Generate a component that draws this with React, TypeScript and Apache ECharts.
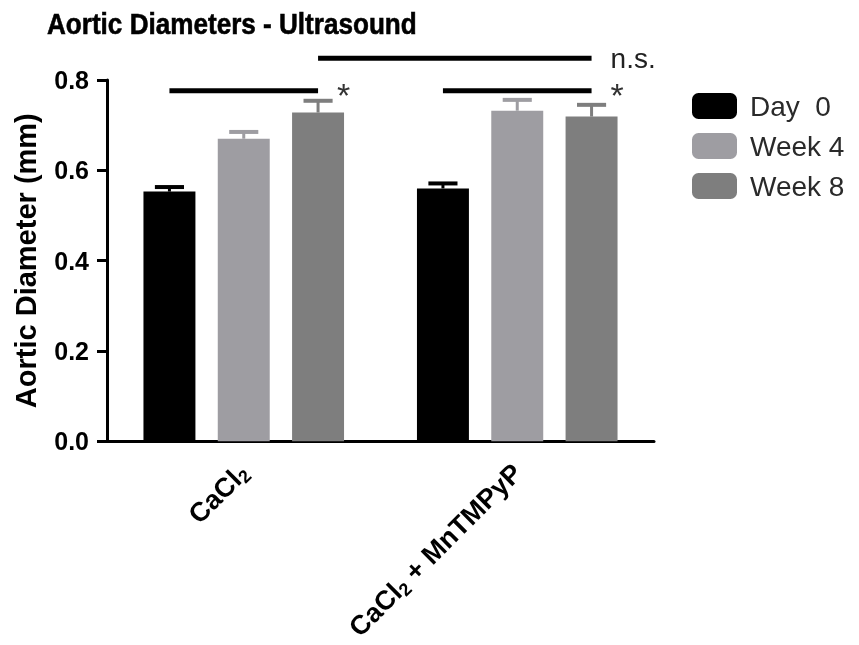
import React, { useEffect, useRef } from "react";
import * as echarts from "echarts";

const categories = ["CaCl{sub|2}", "CaCl{sub|2} + MnTMPyP"];
const seriesNames = ["Day  0", "Week 4", "Week 8"];
const day0 = [0.553, 0.56];
const week4 = [0.67, 0.732];
const week8 = [0.728, 0.719];
const day0Err = [0.01, 0.011];
const week4Err = [0.015, 0.024];
const week8Err = [0.026, 0.026];
const colors = ["#000000", "#9e9da2", "#7e7e7e"];
const yTicks = [0, 0.2, 0.4, 0.6, 0.8];
const titleText = "Aortic Diameters - Ultrasound";
const yName = "Aortic Diameter (mm)";

// significance brackets: from (group, bar) to (group, bar) at height y
const sigFromGroup = [0, 1, 0];
const sigFromBar = [0, 0, 2];
const sigToGroup = [0, 1, 1];
const sigToBar = [2, 2, 2];
const sigY = [0.776, 0.776, 0.848];
const sigLabels = ["*", "*", "n.s."];

const BAR_W = 0.19;
const BAR_GAP = 0.43;
const FONT = "'Liberation Sans', Arial, Helvetica, sans-serif";

export default function App() {
  const ref = useRef<HTMLDivElement>(null);
  useEffect(() => {
    if (!ref.current) return;
    const chart = echarts.init(ref.current, null, { renderer: "svg" });
    const values = [day0, week4, week8];
    const errs = [day0Err, week4Err, week8Err];
    const errData: number[][] = [];
    values.forEach((arr, s) =>
      arr.forEach((v, g) => errData.push([g, s, v, errs[s][g]]))
    );
    const sigData = sigY.map((y, i) => [
      sigFromGroup[i],
      sigFromBar[i],
      sigToGroup[i],
      sigToBar[i],
      y,
    ]);
    const barOffset = (band: number, s: number) =>
      (s - 1) * band * BAR_W * (1 + BAR_GAP);

    chart.setOption({
      animation: false,
      graphic: [
        {
          type: "text",
          x: 47,
          y: 24,
          scaleX: 0.87,
          style: {
            text: titleText,
            fontFamily: FONT,
            fontSize: 30,
            fontWeight: "bold",
            fill: "#000",
            stroke: "#000",
            lineWidth: 0.6,
            align: "left",
            verticalAlign: "middle",
          },
        },
      ],
      legend: {
        data: seriesNames,
        orient: "vertical",
        left: 687,
        top: 87,
        itemWidth: 45,
        itemHeight: 26,
        itemGap: 12,
        icon: "roundRect",
        textStyle: {
          fontFamily: FONT,
          fontSize: 28,
          color: "#2a2a2a",
          padding: [0, 0, 0, 8],
        },
      },
      grid: { left: 107, right: 205, top: 80, bottom: 202 },
      xAxis: {
        type: "category",
        data: categories,
        axisLine: { lineStyle: { color: "#000", width: 3 } },
        axisTick: { alignWithLabel: true, length: 8, lineStyle: { width: 2, color: "#000" } },
        axisLabel: {
          rotate: 45,
          margin: 27,
          interval: 0,
          fontFamily: FONT,
          fontSize: 27,
          fontWeight: "bold",
          color: "#000",
          rich: {
            sub: {
              fontFamily: FONT,
              fontSize: 18,
              fontWeight: "bold",
              color: "#000",
              verticalAlign: "bottom",
              padding: [13, 0, 0, 0],
            },
          },
        },
      },
      yAxis: {
        type: "value",
        min: yTicks[0],
        max: yTicks[yTicks.length - 1],
        interval: 0.2,
        name: yName,
        nameLocation: "middle",
        nameGap: 67,
        nameTextStyle: { fontFamily: FONT, fontSize: 29, fontWeight: "bold", color: "#000" },
        splitLine: { show: false },
        axisLine: { show: true, lineStyle: { color: "#000", width: 3 } },
        axisTick: { show: true, length: 10, lineStyle: { width: 3, color: "#000" } },
        axisLabel: {
          margin: 18,
          fontFamily: FONT,
          fontSize: 25,
          fontWeight: "bold",
          color: "#000",
          formatter: (v: number) => v.toFixed(1),
        },
      },
      series: [
        ...seriesNames.map((name, s) => ({
          name,
          type: "bar",
          data: values[s],
          barWidth: BAR_W * 100 + "%",
          barGap: BAR_GAP * 100 + "%",
          itemStyle: { color: colors[s] },
          z: 2,
        })),
        {
          type: "custom",
          name: "err",
          data: errData,
          encode: { x: 0, y: 2 },
          z: 3,
          renderItem: (params: any, api: any) => {
            const g = api.value(0);
            const s = api.value(1);
            const v = api.value(2);
            const e = api.value(3);
            const band = api.size([1, 0])[0];
            const base = api.coord([g, v]);
            const top = api.coord([g, v + e]);
            const x = base[0] + barOffset(band, s);
            const half = band * BAR_W * 0.28;
            const c = colors[s];
            return {
              type: "group",
              children: [
                {
                  type: "line",
                  shape: { x1: x, y1: base[1], x2: x, y2: top[1] },
                  style: { stroke: c, lineWidth: 3 },
                },
                {
                  type: "line",
                  shape: { x1: x - half, y1: top[1], x2: x + half, y2: top[1] },
                  style: { stroke: c, lineWidth: 4 },
                },
              ],
            };
          },
        },
        {
          type: "custom",
          name: "sig",
          data: sigData,
          encode: { x: 0, y: 4 },
          z: 4,
          renderItem: (params: any, api: any) => {
            const g1 = api.value(0);
            const s1 = api.value(1);
            const g2 = api.value(2);
            const s2 = api.value(3);
            const y = api.value(4);
            const band = api.size([1, 0])[0];
            const p1 = api.coord([g1, y]);
            const p2 = api.coord([g2, y]);
            const x1 = p1[0] + barOffset(band, s1);
            const x2 = p2[0] + barOffset(band, s2);
            const label = sigLabels[params.dataIndex];
            const isStar = label === "*";
            return {
              type: "group",
              children: [
                {
                  type: "line",
                  shape: { x1, y1: p1[1], x2, y2: p2[1] },
                  style: { stroke: "#000", lineWidth: 5 },
                },
                {
                  type: "text",
                  x: x2 + 19,
                  y: p2[1] + (isStar ? 4 : 0),
                  style: {
                    text: label,
                    fontFamily: FONT,
                    fontSize: isStar ? 34 : 28,
                    fill: isStar ? "#333" : "#222",
                    align: "left",
                    verticalAlign: "middle",
                  },
                },
              ],
            };
          },
        },
      ],
    });
    return () => chart.dispose();
  }, []);
  return (
    <div
      ref={ref}
      style={{ position: "fixed", left: 0, top: 0, width: 859, height: 645 }}
    />
  );
}
